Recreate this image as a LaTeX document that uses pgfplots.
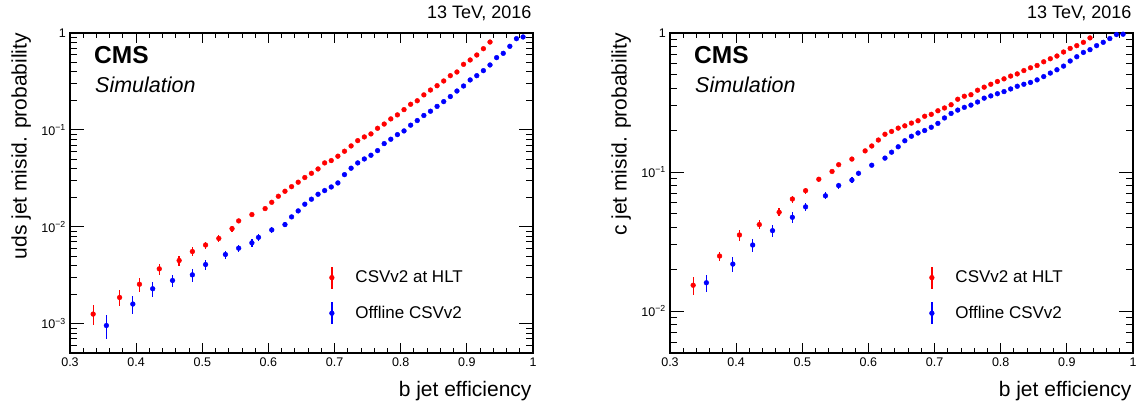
\documentclass[border=0pt]{standalone}
\usepackage{fontspec}
\setmainfont{Liberation Sans}
\usepackage{pgfplots}
\usepackage{pgfplotstable}
\pgfplotsset{compat=1.18}

\definecolor{rootred}{RGB}{255,0,0}
\definecolor{rootblue}{RGB}{0,0,255}

% uds mistag, HLT
\pgfplotstableread{
x y e
0.335 0.00126 0.00029
0.375 0.00187 0.00036
0.405 0.00256 0.00041
0.435 0.00369 0.00048
0.465 0.00450 0.00054
0.485 0.00557 0.00061
0.505 0.00650 0.00055
0.525 0.00760 0.00060
0.545 0.00960 0.00067
0.555 0.01153 0.00060
0.575 0.01340 0.00060
0.595 0.01545 0.00060
0.605 0.01794 0.0006
0.615 0.0207 0.0006
0.625 0.0233 0.0006
0.635 0.0260 0
0.645 0.0289 0
0.655 0.0323 0
0.665 0.0357 0
0.675 0.0396 0
0.685 0.0457 0
0.695 0.0483 0
0.705 0.0536 0
0.715 0.0603 0
0.725 0.0684 0
0.735 0.0776 0
0.745 0.0847 0
0.755 0.0910 0
0.765 0.104 0
0.775 0.115 0
0.785 0.130 0
0.795 0.143 0
0.805 0.162 0
0.815 0.184 0
0.825 0.200 0
0.835 0.230 0
0.845 0.258 0
0.855 0.286 0
0.865 0.320 0
0.875 0.363 0
0.885 0.396 0
0.895 0.475 0
0.905 0.527 0
0.915 0.593 0
0.925 0.689 0
0.935 0.807 0
}\udshlt

% uds mistag, offline
\pgfplotstableread{
x y e
0.355 0.00096 0.00026
0.395 0.00160 0.00034
0.425 0.00230 0.00039
0.455 0.00280 0.00042
0.485 0.00320 0.00051
0.505 0.00409 0.00049
0.535 0.00519 0.00049
0.555 0.00603 0.00054
0.575 0.00684 0.00058
0.585 0.00780 0.00058
0.605 0.00930 0.00065
0.625 0.01056 0.00063
0.635 0.01268 0.0006
0.645 0.01462 0.0006
0.655 0.01713 0
0.665 0.0193 0
0.675 0.0217 0
0.685 0.0237 0
0.695 0.0258 0
0.705 0.0284 0
0.715 0.0346 0
0.725 0.0403 0
0.735 0.0457 0
0.745 0.0502 0
0.755 0.0548 0
0.765 0.0612 0
0.775 0.0723 0
0.785 0.0802 0
0.795 0.0895 0
0.805 0.0977 0
0.815 0.112 0
0.825 0.125 0
0.835 0.141 0
0.845 0.156 0
0.855 0.175 0
0.865 0.196 0
0.875 0.221 0
0.885 0.252 0
0.895 0.284 0
0.905 0.328 0
0.915 0.363 0
0.925 0.409 0
0.935 0.468 0
0.945 0.557 0
0.955 0.617 0
0.965 0.729 0
0.975 0.874 0
0.985 0.910 0
}\udsoff

% c mistag, HLT
\pgfplotstableread{
x y e
0.335 0.01535 0.0022
0.375 0.0249 0.0018
0.405 0.0353 0.0032
0.435 0.0419 0.0030
0.465 0.0514 0.0034
0.485 0.0640 0.0038
0.505 0.0735 0.0037
0.525 0.0888 0.0035
0.545 0.101 0.003
0.555 0.113 0.003
0.575 0.124 0.003
0.595 0.142 0
0.605 0.154 0
0.615 0.170 0
0.625 0.187 0
0.635 0.196 0
0.645 0.207 0
0.655 0.215 0
0.665 0.225 0
0.675 0.234 0
0.685 0.252 0
0.695 0.260 0
0.705 0.276 0
0.715 0.289 0
0.725 0.305 0
0.735 0.334 0
0.745 0.351 0
0.755 0.360 0
0.765 0.388 0
0.775 0.408 0
0.785 0.428 0
0.795 0.448 0
0.805 0.468 0
0.815 0.490 0
0.825 0.508 0
0.835 0.537 0
0.845 0.562 0
0.855 0.584 0
0.865 0.621 0
0.875 0.653 0
0.885 0.683 0
0.895 0.730 0
0.905 0.775 0
0.915 0.811 0
0.925 0.857 0
0.935 0.922 0
}\chlt

% c mistag, offline
\pgfplotstableread{
x y e
0.355 0.0160 0.0022
0.395 0.0218 0.0026
0.425 0.0299 0.0032
0.455 0.0379 0.0036
0.485 0.0473 0.0040
0.505 0.0562 0.0039
0.535 0.0675 0.0040
0.555 0.0800 0.004
0.575 0.0876 0.004
0.585 0.098 0.004
0.605 0.112 0
0.625 0.126 0
0.635 0.139 0
0.645 0.152 0
0.655 0.168 0
0.665 0.181 0
0.675 0.191 0
0.685 0.199 0
0.695 0.210 0
0.705 0.224 0
0.715 0.245 0
0.725 0.264 0
0.735 0.279 0
0.745 0.292 0
0.755 0.303 0
0.765 0.319 0
0.775 0.340 0
0.785 0.353 0
0.795 0.366 0
0.805 0.379 0
0.815 0.396 0
0.825 0.414 0
0.835 0.428 0
0.845 0.441 0
0.855 0.460 0
0.865 0.486 0
0.875 0.515 0
0.885 0.544 0
0.895 0.578 0
0.905 0.629 0
0.915 0.675 0
0.925 0.725 0
0.935 0.759 0
0.945 0.811 0
0.955 0.857 0
0.965 0.912 0
0.975 0.975 0
0.985 0.980 0
}\coff

\begin{document}
\begin{tikzpicture}
\useasboundingbox (0pt,0pt) rectangle (1141pt,403pt);

% ---- left: uds ----
\begin{axis}[at={(70pt,50pt)}, anchor=south west,
  scale only axis, width=463pt, height=320pt,
  xmin=0.3, xmax=1, ymode=log, ymin=5e-4, ymax=1,
  xtick={0.3,0.4,0.5,0.6,0.7,0.8,0.9,1},
  xticklabels={0.3,0.4,0.5,0.6,0.7,0.8,0.9,1},
  minor x tick num=4,
  ytick={1e-3,1e-2,1e-1,1},
  yticklabels={10\textsuperscript{−3},10\textsuperscript{−2},10\textsuperscript{−1},1},
  minor ytick={6e-4,7e-4,8e-4,9e-4,2e-3,3e-3,4e-3,5e-3,6e-3,7e-3,8e-3,9e-3,
    2e-2,3e-2,4e-2,5e-2,6e-2,7e-2,8e-2,9e-2,0.2,0.3,0.4,0.5,0.6,0.7,0.8,0.9},
  tick align=inside,
  major tick length=10pt, minor tick length=5pt,
  ytick style={/pgfplots/major tick length=14pt, /pgfplots/minor tick length=7pt},
  axis line style={line width=1.2pt},
  tick style={black, line width=0.9pt},
  tick label style={font=\fontsize{12.5}{14}\selectfont, inner sep=0pt},
  xticklabel style={anchor=north, yshift=-5pt},
  yticklabel style={anchor=east, xshift=-4pt},
  label style={font=\fontsize{21}{24}\selectfont, inner sep=0pt},
  xlabel={b jet efficiency},
  xlabel style={at={(rel axis cs:0.9972,-0.1366)}, anchor=base east},
  ylabel={uds jet misid. probability},
  ylabel style={at={(rel axis cs:-0.0935,1)}, anchor=base east},
  title={13 TeV, 2016},
  title style={at={(rel axis cs:0.9972,1.025)}, anchor=base east, inner sep=0pt,
    font=\fontsize{18}{21}\selectfont},
  legend style={draw=none, fill=none, inner sep=0pt, outer sep=0pt,
    font=\fontsize{17}{20}\selectfont, nodes={inner sep=0pt},
    column sep=21pt, row sep=12.3pt,
    at={(rel axis cs:0.560,0.272)}, anchor=north west},
  legend cell align=left]
\addplot[forget plot, only marks, mark=*, mark size=2.4pt, color=rootred,
  error bars/.cd, y dir=both, y explicit,
  error bar style={line width=1.3pt, color=rootred}, error mark=none]
  table[x=x, y=y, y error=e] {\udshlt};
\addplot[forget plot, only marks, mark=*, mark size=2.4pt, color=rootblue,
  error bars/.cd, y dir=both, y explicit,
  error bar style={line width=1.3pt, color=rootblue}, error mark=none]
  table[x=x, y=y, y error=e] {\udsoff};
\addlegendimage{legend image code/.code={
  \draw[rootred, line width=1.3pt] (0pt,-11pt)--(0pt,11pt);
  \fill[rootred] (0pt,0pt) circle (2.4pt);}}
\addlegendentry{CSVv2 at HLT}
\addlegendimage{legend image code/.code={
  \draw[rootblue, line width=1.3pt] (0pt,-11pt)--(0pt,11pt);
  \fill[rootblue] (0pt,0pt) circle (2.4pt);}}
\addlegendentry{Offline CSVv2}
\node[anchor=base west, inner sep=0pt, font=\fontsize{24.5}{28}\selectfont\bfseries]
  at (rel axis cs:0.0518,0.9053) {CMS};
\node[anchor=base west, inner sep=0pt, font=\fontsize{21.5}{25}\selectfont\itshape]
  at (rel axis cs:0.054,0.8135) {Simulation};
\end{axis}

% ---- right: c ----
\begin{axis}[at={(670pt,50pt)}, anchor=south west,
  scale only axis, width=463pt, height=320pt,
  xmin=0.3, xmax=1, ymode=log, ymin=5e-3, ymax=1,
  xtick={0.3,0.4,0.5,0.6,0.7,0.8,0.9,1},
  xticklabels={0.3,0.4,0.5,0.6,0.7,0.8,0.9,1},
  minor x tick num=4,
  ytick={1e-2,1e-1,1},
  yticklabels={10\textsuperscript{−2},10\textsuperscript{−1},1},
  minor ytick={6e-3,7e-3,8e-3,9e-3,
    2e-2,3e-2,4e-2,5e-2,6e-2,7e-2,8e-2,9e-2,0.2,0.3,0.4,0.5,0.6,0.7,0.8,0.9},
  tick align=inside,
  major tick length=10pt, minor tick length=5pt,
  ytick style={/pgfplots/major tick length=14pt, /pgfplots/minor tick length=7pt},
  axis line style={line width=1.2pt},
  tick style={black, line width=0.9pt},
  tick label style={font=\fontsize{12.5}{14}\selectfont, inner sep=0pt},
  xticklabel style={anchor=north, yshift=-5pt},
  yticklabel style={anchor=east, xshift=-4pt},
  label style={font=\fontsize{21}{24}\selectfont, inner sep=0pt},
  xlabel={b jet efficiency},
  xlabel style={at={(rel axis cs:0.9972,-0.1366)}, anchor=base east},
  ylabel={c jet misid. probability},
  ylabel style={at={(rel axis cs:-0.0935,1)}, anchor=base east},
  title={13 TeV, 2016},
  title style={at={(rel axis cs:0.9972,1.025)}, anchor=base east, inner sep=0pt,
    font=\fontsize{18}{21}\selectfont},
  legend style={draw=none, fill=none, inner sep=0pt, outer sep=0pt,
    font=\fontsize{17}{20}\selectfont, nodes={inner sep=0pt},
    column sep=21pt, row sep=12.3pt,
    at={(rel axis cs:0.560,0.272)}, anchor=north west},
  legend cell align=left]
\addplot[forget plot, only marks, mark=*, mark size=2.4pt, color=rootred,
  error bars/.cd, y dir=both, y explicit,
  error bar style={line width=1.3pt, color=rootred}, error mark=none]
  table[x=x, y=y, y error=e] {\chlt};
\addplot[forget plot, only marks, mark=*, mark size=2.4pt, color=rootblue,
  error bars/.cd, y dir=both, y explicit,
  error bar style={line width=1.3pt, color=rootblue}, error mark=none]
  table[x=x, y=y, y error=e] {\coff};
\addlegendimage{legend image code/.code={
  \draw[rootred, line width=1.3pt] (0pt,-11pt)--(0pt,11pt);
  \fill[rootred] (0pt,0pt) circle (2.4pt);}}
\addlegendentry{CSVv2 at HLT}
\addlegendimage{legend image code/.code={
  \draw[rootblue, line width=1.3pt] (0pt,-11pt)--(0pt,11pt);
  \fill[rootblue] (0pt,0pt) circle (2.4pt);}}
\addlegendentry{Offline CSVv2}
\node[anchor=base west, inner sep=0pt, font=\fontsize{24.5}{28}\selectfont\bfseries]
  at (rel axis cs:0.0518,0.9053) {CMS};
\node[anchor=base west, inner sep=0pt, font=\fontsize{21.5}{25}\selectfont\itshape]
  at (rel axis cs:0.054,0.8135) {Simulation};
\end{axis}
\end{tikzpicture}
\end{document}
